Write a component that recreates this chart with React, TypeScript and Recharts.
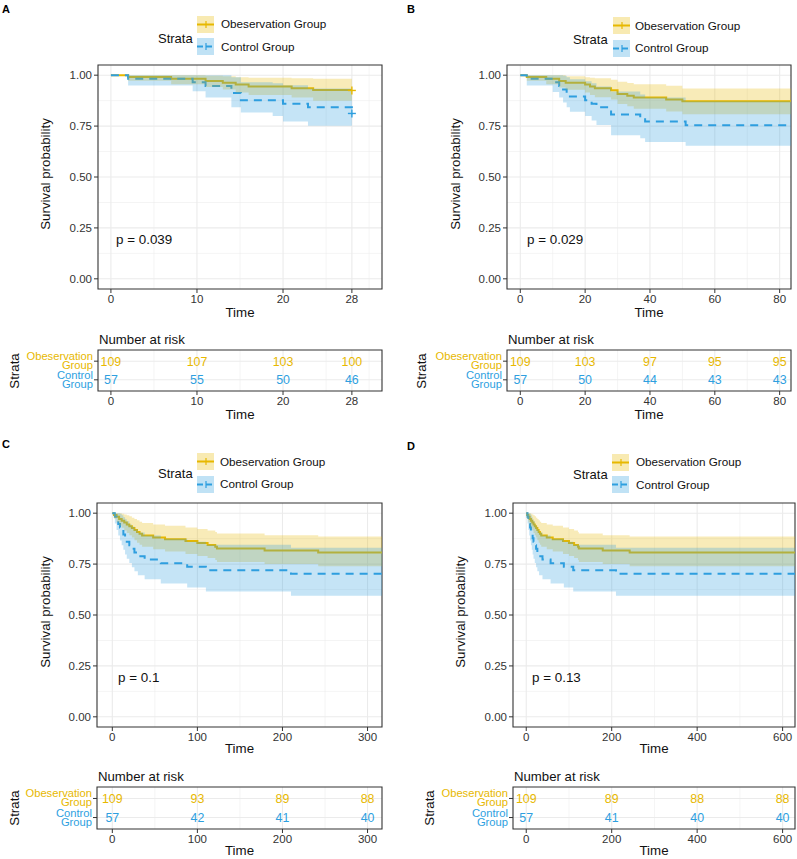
import React from 'react'
import {
  ComposedChart,
  Line,
  Area,
  Scatter,
  XAxis,
  YAxis,
  CartesianGrid,
  ReferenceArea
} from 'recharts'

const FONT = '"Liberation Sans", Arial, Helvetica, sans-serif'
const OBS_COLOR = '#E7B800'
const CTRL_COLOR = '#2E9FDF'
const GRID = '#EBEBEB'
const INK = '#333333'

// KM curves: [time, survival, lower CI, upper CI]
const obs28 = [
  [0, 1, 1, 1], [2, 0.991, 0.973, 1], [7, 0.982, 0.956, 1], [11, 0.972, 0.942, 0.997],
  [13, 0.963, 0.93, 0.995], [14.5, 0.954, 0.915, 0.99], [16, 0.945, 0.903, 0.988],
  [21, 0.936, 0.89, 0.985], [23.5, 0.927, 0.875, 0.982], [28, 0.927, 0.875, 0.982]
]
const ctrl28 = [
  [0, 1, 1, 1], [2, 0.982, 0.949, 1], [9.5, 0.965, 0.921, 1], [11, 0.947, 0.89, 1],
  [14, 0.912, 0.842, 0.99], [15.1, 0.877, 0.817, 0.965], [18.8, 0.877, 0.8, 0.96],
  [20, 0.86, 0.773, 0.95], [22.9, 0.842, 0.752, 0.935], [28, 0.807, 0.752, 0.935]
]
const obs84 = [
  [0, 1, 1, 1], [2, 0.991, 0.973, 1], [8, 0.982, 0.956, 1], [12, 0.972, 0.94, 1],
  [14, 0.963, 0.928, 0.995], [20, 0.954, 0.915, 0.99], [21.5, 0.945, 0.903, 0.988],
  [23, 0.936, 0.892, 0.985], [28, 0.926, 0.88, 0.978], [30, 0.908, 0.858, 0.968],
  [33, 0.899, 0.847, 0.962], [35, 0.89, 0.835, 0.955], [45, 0.881, 0.822, 0.948],
  [50, 0.872, 0.808, 0.935], [85, 0.872, 0.808, 0.935]
]
const ctrl84 = [
  [0, 1, 1, 1], [2, 0.982, 0.949, 1], [10, 0.965, 0.918, 1], [12, 0.947, 0.89, 1],
  [13.2, 0.93, 0.866, 0.997], [14.3, 0.912, 0.843, 0.99], [15.3, 0.895, 0.82, 0.98],
  [20, 0.877, 0.8, 0.97], [22, 0.86, 0.778, 0.96], [23.5, 0.842, 0.755, 0.945],
  [28, 0.807, 0.705, 0.92], [37, 0.789, 0.69, 0.905], [38.5, 0.772, 0.672, 0.89],
  [51, 0.754, 0.653, 0.872], [85, 0.754, 0.653, 0.872]
]
// panels C and D show the same cohort over different windows
const obsAll = [
  [0, 1, 1, 1], [2, 0.991, 0.973, 1], [5, 0.982, 0.956, 1], [8, 0.972, 0.94, 1],
  [11, 0.963, 0.928, 0.997], [14, 0.954, 0.915, 0.993], [17, 0.945, 0.903, 0.99],
  [20, 0.936, 0.892, 0.985], [23, 0.927, 0.88, 0.978], [26, 0.917, 0.867, 0.972],
  [29, 0.908, 0.855, 0.965], [32, 0.899, 0.845, 0.958], [35, 0.89, 0.835, 0.952],
  [48, 0.881, 0.823, 0.945], [62, 0.872, 0.812, 0.938], [86, 0.863, 0.8, 0.93],
  [100, 0.853, 0.79, 0.922], [112, 0.844, 0.78, 0.915], [121, 0.835, 0.77, 0.907],
  [123, 0.826, 0.76, 0.9], [179, 0.817, 0.75, 0.892], [242, 0.807, 0.74, 0.885],
  [629, 0.807, 0.74, 0.885]
]
const ctrlAll = [
  [0, 1, 1, 1], [3, 0.982, 0.949, 1], [5, 0.965, 0.918, 1], [7, 0.947, 0.89, 1],
  [9, 0.93, 0.866, 0.997], [11, 0.912, 0.843, 0.99], [13, 0.895, 0.82, 0.98],
  [15, 0.877, 0.797, 0.97], [17, 0.86, 0.776, 0.96], [20, 0.842, 0.755, 0.945],
  [23, 0.825, 0.735, 0.935], [26, 0.807, 0.715, 0.92], [30, 0.789, 0.695, 0.905],
  [38, 0.772, 0.675, 0.89], [57, 0.754, 0.655, 0.875], [88, 0.737, 0.635, 0.86],
  [110, 0.72, 0.615, 0.845], [210, 0.702, 0.595, 0.83], [629, 0.702, 0.595, 0.83]
]

const ticks28 = [0, 10, 20, 28]
const ticks84 = [0, 20, 40, 60, 80]
const ticks300 = [0, 100, 200, 300]
const ticks600 = [0, 200, 400, 600]
const yTicks = [0, 0.25, 0.5, 0.75, 1]
const yMinor = [0.125, 0.375, 0.625, 0.875]

const riskObs28 = [109, 107, 103, 100]
const riskCtrl28 = [57, 55, 50, 46]
const riskObs84 = [109, 103, 97, 95, 95]
const riskCtrl84 = [57, 50, 44, 43, 43]
const riskObs300 = [109, 93, 89, 88]
const riskCtrl300 = [57, 42, 41, 40]
const riskObs600 = [109, 89, 88, 88]
const riskCtrl600 = [57, 41, 40, 40]

const toRows = (pts: number[][]) => pts.map(([t, s, lo, hi]) => ({ t, s, lo, hi }))

const panels = [
  {
    letter: 'A', lx: 6, ly: 9, p: 'p = 0.039', px: 116, py: 240,
    plot: { x: 98, y: 65, w: 284, h: 224 }, risk: { x: 98, y: 350, w: 284, h: 41 },
    domain: [-1.5, 31.5], ticks: ticks28, minor: [5, 15, 25, 30],
    obs: toRows(obs28), ctrl: toRows(ctrl28),
    marks: { obs: [{ t: 28, s: 0.925 }], ctrl: [{ t: 28, s: 0.812 }] },
    riskObs: riskObs28, riskCtrl: riskCtrl28,
    legend: { titleX: 158, titleY: 38, keyX: 197, obsY: 24, ctrlY: 46.5, textX: 221 },
    yTitleX: 46, strataX: 15, timeGap: 24
  },
  {
    letter: 'B', lx: 411, ly: 9, p: 'p = 0.029', px: 527, py: 240,
    plot: { x: 507, y: 65, w: 284, h: 224 }, risk: { x: 507, y: 350, w: 284, h: 41 },
    domain: [-4.1, 83.5], ticks: ticks84, minor: [10, 30, 50, 70],
    obs: toRows(obs84), ctrl: toRows(ctrl84), marks: null,
    riskObs: riskObs84, riskCtrl: riskCtrl84,
    legend: { titleX: 573, titleY: 39, keyX: 613, obsY: 25.5, ctrlY: 48, textX: 635 },
    yTitleX: 456, strataX: 422, timeGap: 24
  },
  {
    letter: 'C', lx: 6, ly: 444, p: 'p = 0.1', px: 118, py: 678,
    plot: { x: 97, y: 503, w: 285, h: 224 }, risk: { x: 97, y: 787, w: 285, h: 42 },
    domain: [-18, 317], ticks: ticks300, minor: [50, 150, 250],
    obs: toRows(obsAll), ctrl: toRows(ctrlAll), marks: null,
    riskObs: riskObs300, riskCtrl: riskCtrl300,
    legend: { titleX: 158, titleY: 473, keyX: 197, obsY: 461.5, ctrlY: 484, textX: 220 },
    yTitleX: 46, strataX: 15, timeGap: 22
  },
  {
    letter: 'D', lx: 411, ly: 446, p: 'p = 0.13', px: 532, py: 678,
    plot: { x: 513, y: 503, w: 282, h: 224 }, risk: { x: 513, y: 787, w: 282, h: 42 },
    domain: [-31, 629], ticks: ticks600, minor: [100, 300, 500],
    obs: toRows(obsAll), ctrl: toRows(ctrlAll), marks: null,
    riskObs: riskObs600, riskCtrl: riskCtrl600,
    legend: { titleX: 573, titleY: 474, keyX: 612, obsY: 462, ctrlY: 484.5, textX: 636 },
    yTitleX: 461, strataX: 430, timeGap: 22
  }
]

const tickStyle = { fontSize: 11.5, fill: INK, fontFamily: FONT }

const Txt = ({ x, y, size = 13, color = '#111', anchor = 'start', weight = 400, children }: any) => {
  const tx = anchor === 'start' ? '0' : anchor === 'middle' ? '-50%' : '-100%'
  return (
    <div
      style={{
        position: 'absolute', left: x, top: y, transform: `translate(${tx}, -50%)`,
        fontSize: size, color, fontWeight: weight, fontFamily: FONT, lineHeight: 1, whiteSpace: 'nowrap'
      }}
    >
      {children}
    </div>
  )
}

const VTxt = ({ x, y, size = 13, children }: any) => (
  <div
    style={{
      position: 'absolute', left: x, top: y, transform: 'translate(-50%, -50%) rotate(-90deg)',
      fontSize: size, color: '#111', fontFamily: FONT, lineHeight: 1, whiteSpace: 'nowrap'
    }}
  >
    {children}
  </div>
)

const LegendKey = ({ x, y, color, dashed }: any) => (
  <svg style={{ position: 'absolute', left: x, top: y - 8.5 }} width={17} height={17}>
    <rect x={0} y={0} width={17} height={17} fill={color} fillOpacity={0.3} />
    <line x1={0} x2={17} y1={8.5} y2={8.5} stroke={color} strokeWidth={2} strokeDasharray={dashed ? '6 3' : undefined} />
    <line x1={9} x2={9} y1={5} y2={12} stroke={color} strokeWidth={1.2} />
  </svg>
)

const Plus = (color: string) => (p: any) => (
  <g stroke={color} strokeWidth={1.4}>
    <line x1={p.cx - 4} x2={p.cx + 4} y1={p.cy} y2={p.cy} />
    <line x1={p.cx} x2={p.cx} y1={p.cy - 4} y2={p.cy + 4} />
  </g>
)

const KMPlot = ({ panel }: any) => {
  const { plot, domain, ticks, minor, obs, ctrl, marks } = panel
  const ML = 40, MT = 4, MB = 24, MR = 4
  return (
    <div style={{ position: 'absolute', left: plot.x - ML, top: plot.y - MT }}>
      <ComposedChart width={plot.w + ML + MR} height={plot.h + MT + MB} margin={{ top: MT, right: MR, bottom: 0, left: 0 }}>
        <CartesianGrid stroke={GRID} strokeWidth={0.55} verticalValues={minor} horizontalValues={yMinor} />
        <CartesianGrid stroke={GRID} strokeWidth={1.1} verticalValues={ticks} horizontalValues={yTicks} />
        <XAxis
          type="number" dataKey="t" domain={domain} ticks={ticks} allowDataOverflow interval={0}
          height={MB} axisLine={false} tickSize={4} tickMargin={2} tick={tickStyle} tickLine={{ stroke: INK }}
        />
        <YAxis
          type="number" dataKey="s" domain={[-0.05, 1.05]} ticks={yTicks} allowDataOverflow interval={0}
          tickFormatter={(v: number) => v.toFixed(2)} width={ML} axisLine={false} tickSize={4} tickMargin={2}
          tick={tickStyle} tickLine={{ stroke: INK }}
        />
        <Line data={obs} dataKey="s" type="stepAfter" stroke={OBS_COLOR} strokeWidth={2} dot={false} activeDot={false} isAnimationActive={false} zIndex={400} />
        <Line data={ctrl} dataKey="s" type="stepAfter" stroke={CTRL_COLOR} strokeWidth={2} strokeDasharray="8 6" dot={false} activeDot={false} isAnimationActive={false} zIndex={400} />
        <Area data={obs} dataKey={(d: any) => [d.lo, d.hi]} type="stepAfter" stroke="none" fill={OBS_COLOR} fillOpacity={0.28} isAnimationActive={false} zIndex={450} />
        <Area data={ctrl} dataKey={(d: any) => [d.lo, d.hi]} type="stepAfter" stroke="none" fill={CTRL_COLOR} fillOpacity={0.28} isAnimationActive={false} zIndex={450} />
        {marks && <Scatter data={marks.obs} shape={Plus(OBS_COLOR)} isAnimationActive={false} />}
        {marks && <Scatter data={marks.ctrl} shape={Plus(CTRL_COLOR)} isAnimationActive={false} />}
        <ReferenceArea x1={domain[0]} x2={domain[1]} y1={-0.05} y2={1.05} fill="none" stroke={INK} strokeWidth={1.1} ifOverflow="visible" />
      </ComposedChart>
    </div>
  )
}

const StrataTick = (props: any) => {
  const { x, y, payload } = props
  const isObs = payload.value === 2
  const lines = isObs ? ['Obeservation', 'Group'] : ['Control', 'Group']
  return (
    <text x={x} y={y} textAnchor="end" fontSize={11.2} fill={isObs ? OBS_COLOR : CTRL_COLOR} fontFamily={FONT}>
      <tspan x={x} dy={-1}>{lines[0]}</tspan>
      <tspan x={x} dy={9}>{lines[1]}</tspan>
    </text>
  )
}

const CountText = (color: string) => (p: any) => (
  <text x={p.cx} y={p.cy} dy="0.36em" textAnchor="middle" fontSize={12.4} fill={color} fontFamily={FONT}>
    {p.payload.n}
  </text>
)

const RiskTable = ({ panel }: any) => {
  const { risk, domain, ticks, minor, riskObs, riskCtrl } = panel
  const ML = 80, MT = 2, MB = 20, MR = 4
  const obsRows = ticks.map((t: number, i: number) => ({ t, row: 2, n: riskObs[i] }))
  const ctrlRows = ticks.map((t: number, i: number) => ({ t, row: 1, n: riskCtrl[i] }))
  return (
    <div style={{ position: 'absolute', left: risk.x - ML, top: risk.y - MT }}>
      <ComposedChart width={risk.w + ML + MR} height={risk.h + MT + MB} margin={{ top: MT, right: MR, bottom: 0, left: 0 }}>
        <CartesianGrid stroke={GRID} strokeWidth={0.55} verticalValues={minor} horizontal={false} />
        <CartesianGrid stroke={GRID} strokeWidth={1.1} verticalValues={ticks} horizontalValues={[1, 2]} />
        <XAxis
          type="number" dataKey="t" domain={domain} ticks={ticks} allowDataOverflow interval={0}
          height={MB} axisLine={false} tickSize={4} tickMargin={2} tick={tickStyle} tickLine={{ stroke: INK }}
        />
        <YAxis
          type="number" dataKey="row" domain={[0.4, 2.6]} ticks={[1, 2]} interval={0} width={ML}
          axisLine={false} tickSize={4} tickMargin={1} tick={<StrataTick />} tickLine={{ stroke: INK }}
        />
        <Scatter data={obsRows} shape={CountText(OBS_COLOR)} isAnimationActive={false} />
        <Scatter data={ctrlRows} shape={CountText(CTRL_COLOR)} isAnimationActive={false} />
        <ReferenceArea x1={domain[0]} x2={domain[1]} y1={0.4} y2={2.6} fill="none" stroke={INK} strokeWidth={1.1} ifOverflow="visible" />
      </ComposedChart>
    </div>
  )
}

const Panel = ({ panel }: any) => {
  const { plot, risk, legend } = panel
  const cx = plot.x + plot.w / 2
  return (
    <>
      <Txt x={panel.lx} y={panel.ly} size={11} weight={700} anchor="middle" color="#000">{panel.letter}</Txt>
      <Txt x={legend.titleX} y={legend.titleY} size={13}>Strata</Txt>
      <LegendKey x={legend.keyX} y={legend.obsY} color={OBS_COLOR} />
      <LegendKey x={legend.keyX} y={legend.ctrlY} color={CTRL_COLOR} dashed />
      <Txt x={legend.textX} y={legend.obsY} size={11.7}>Obeservation Group</Txt>
      <Txt x={legend.textX} y={legend.ctrlY} size={11.7}>Control Group</Txt>
      <KMPlot panel={panel} />
      <VTxt x={panel.yTitleX} y={plot.y + plot.h / 2 - 3} size={13.3}>Survival probability</VTxt>
      <Txt x={panel.px} y={panel.py} size={13.4}>{panel.p}</Txt>
      <Txt x={cx} y={plot.y + plot.h + panel.timeGap} size={13.3} anchor="middle">Time</Txt>
      <Txt x={risk.x + 1} y={risk.y - 10.5} size={13.2}>Number at risk</Txt>
      <RiskTable panel={panel} />
      <VTxt x={panel.strataX} y={risk.y + risk.h / 2} size={13.3}>Strata</VTxt>
      <Txt x={cx} y={risk.y + risk.h + panel.timeGap - 0.5} size={13.3} anchor="middle">Time</Txt>
    </>
  )
}

export default function App() {
  return (
    <div style={{ position: 'absolute', left: 0, top: 0, width: 797, height: 859, background: '#fff', overflow: 'hidden' }}>
      {panels.map((p) => (
        <Panel key={p.letter} panel={p} />
      ))}
    </div>
  )
}
